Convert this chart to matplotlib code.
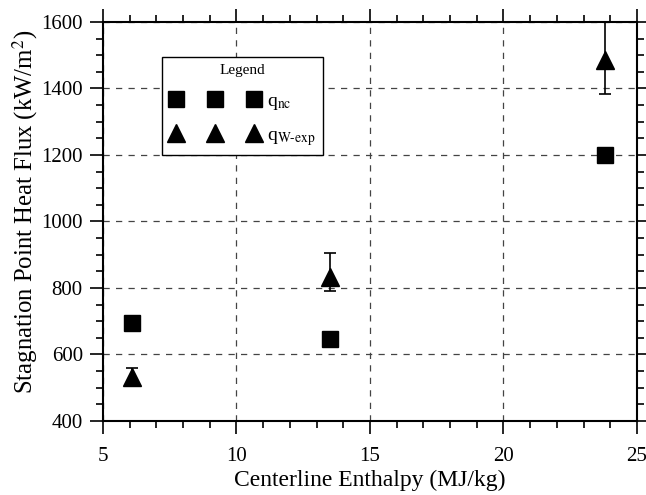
import matplotlib.pyplot as plt
from matplotlib.ticker import MultipleLocator

plt.rcParams['font.family'] = ['Liberation Serif', 'DejaVu Serif']
plt.rcParams['mathtext.fontset'] = 'stix'

# data
enthalpy = [6.1, 13.5, 23.8]
q_nc = [695, 648, 1200]
q_w_exp = [532, 832, 1487]
err_low = [28, 42, 105]
err_high = [28, 72, 130]


def plot_chart():
    fig = plt.figure(figsize=(6.46, 4.95), dpi=100)
    ax = fig.add_axes([0.1594, 0.1495, 0.8266, 0.8061])

    sq, = ax.plot(enthalpy, q_nc, 's', color='black', markersize=11.5,
                  zorder=4)
    eb = ax.errorbar(enthalpy, q_w_exp, yerr=[err_low, err_high], fmt='^',
                     color='black', markersize=13, capsize=4, elinewidth=1.2,
                     capthick=1.2, zorder=4)

    ax.set_xlim(5, 25)
    ax.set_ylim(400, 1600)
    ax.xaxis.set_major_locator(MultipleLocator(5))
    ax.xaxis.set_minor_locator(MultipleLocator(1))
    ax.yaxis.set_major_locator(MultipleLocator(200))
    ax.yaxis.set_minor_locator(MultipleLocator(50))
    ax.tick_params(which='both', direction='out', top=True, right=True,
                   labelsize=15, width=1.2)
    ax.tick_params(which='major', length=9.5)
    ax.tick_params(which='minor', length=5)
    ax.tick_params(axis='x', which='major', pad=9.5)
    ax.tick_params(axis='y', which='major', pad=5)
    for s in ax.spines.values():
        s.set_linewidth(1.5)
    ax.grid(True, which='major', linestyle=(0, (5, 5)), color='#444444',
            linewidth=0.9)

    ax.set_xlabel('Centerline Enthalpy (MJ/kg)', fontsize=17, labelpad=2.5)
    ax.set_ylabel(r'Stagnation Point Heat Flux (kW/m$^2$)', fontsize=17.8)
    ax.yaxis.set_label_coords(-0.118, 0.524)

    leg = ax.legend([sq, eb.lines[0]],
                    [r'q$_{\mathrm{nc}}$', r'q$_{\mathrm{W\text{-}exp}}$'],
                    title='Legend', numpoints=3, handlelength=4.62,
                    loc='upper left', bbox_to_anchor=(0.111, 0.913),
                    fancybox=False, framealpha=1, edgecolor='black',
                    fontsize=14, title_fontsize=11, handletextpad=0.35,
                    labelspacing=0.75, borderpad=0.4, borderaxespad=0)
    leg.get_frame().set_linewidth(1.0)

    fig.savefig('out.png', dpi=100)


plot_chart()
